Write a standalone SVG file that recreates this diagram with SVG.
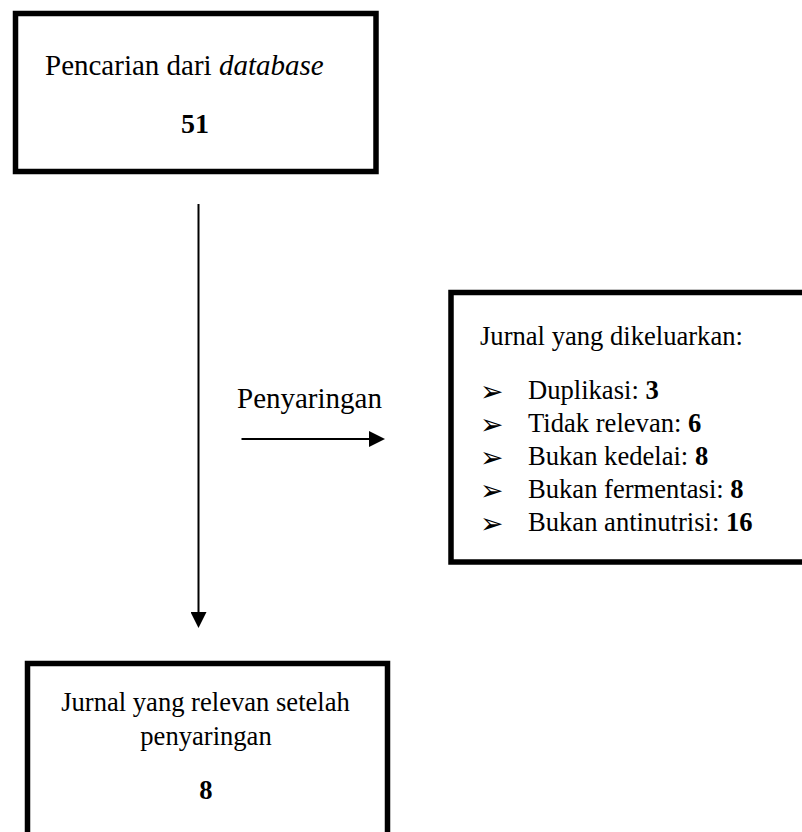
<svg xmlns="http://www.w3.org/2000/svg" width="802" height="832" viewBox="0 0 802 832">
<style>
.box{fill:#fff;stroke:#000;stroke-width:5.5}
.t{font-family:"Liberation Serif","Times New Roman",serif;fill:#000}
.b{font-weight:bold}
.conn{stroke:#000;stroke-width:2;fill:none}
.bul{font-family:"DejaVu Sans",sans-serif;font-size:28px;fill:#000}
</style>
<defs>
<marker id="ah" viewBox="0 0 16 16" refX="8" refY="8" markerWidth="16" markerHeight="16" markerUnits="userSpaceOnUse" orient="auto">
<path d="M0,0 L16,8 L0,16 z" fill="#000"/>
</marker>
</defs>
<rect width="802" height="832" fill="#fff"/>
<g id="connectors">
<line class="conn" x1="198.5" y1="204" x2="198.5" y2="620" marker-end="url(#ah)"/>
<line class="conn" x1="241.5" y1="439" x2="377" y2="439" marker-end="url(#ah)"/>
<text class="t" x="237" y="408" font-size="29">Penyaringan</text>
</g>
<g id="node-search">
<rect class="box" x="15.5" y="13.5" width="360.5" height="158"/>
<text class="t" x="45" y="75" font-size="29">Pencarian dari <tspan font-style="italic">database</tspan></text>
<text class="t b" x="195" y="133" font-size="28" text-anchor="middle">51</text>
</g>
<g id="node-excluded">
<rect class="box" x="451" y="292.5" width="400" height="269.5"/>
<text class="t" x="480" y="345" font-size="26.6">Jurnal yang dikeluarkan:</text>
<g class="bul">
<text x="480" y="400.5">➢</text>
<text x="480" y="433.5">➢</text>
<text x="480" y="466.5">➢</text>
<text x="480" y="499.5">➢</text>
<text x="480" y="532.5">➢</text>
</g>
<g class="t" font-size="26.6">
<text x="528" y="399">Duplikasi: <tspan class="b">3</tspan></text>
<text x="528" y="432">Tidak relevan: <tspan class="b">6</tspan></text>
<text x="528" y="465">Bukan kedelai: <tspan class="b">8</tspan></text>
<text x="528" y="498">Bukan fermentasi: <tspan class="b">8</tspan></text>
<text x="528" y="531">Bukan antinutrisi: <tspan class="b">16</tspan></text>
</g>
</g>
<g id="node-relevant">
<rect class="box" x="27.5" y="663.5" width="360" height="220"/>
<text class="t" x="205.5" y="711" font-size="26.6" text-anchor="middle">Jurnal yang relevan setelah</text>
<text class="t" x="206" y="745" font-size="26.6" text-anchor="middle">penyaringan</text>
<text class="t b" x="206" y="799" font-size="26.6" text-anchor="middle">8</text>
</g>
</svg>
